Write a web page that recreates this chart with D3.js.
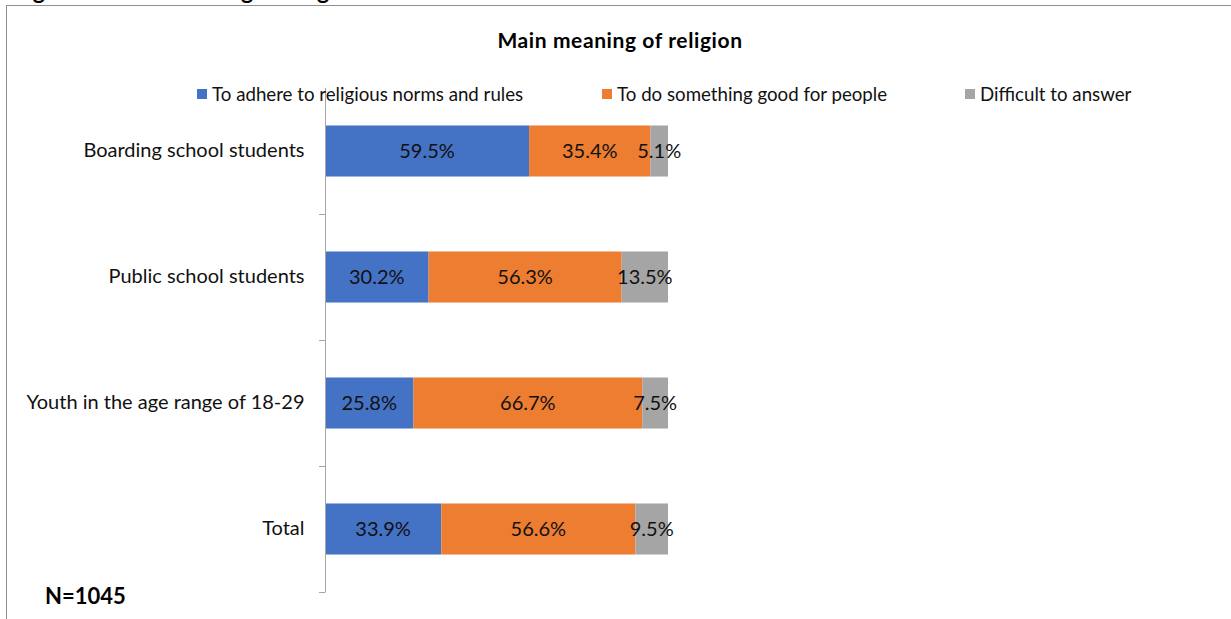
<!DOCTYPE html>
<html>
<head>
<meta charset="utf-8">
<script src="https://cdn.jsdelivr.net/npm/d3@7"></script>
<style>
  body { margin: 0; background: #fff; }
  text { font-family: Lato, "Open Sans", sans-serif; }
</style>
</head>
<body>
<div id="chart"></div>
<script>
// categories top to bottom
const categories = ["Boarding school students", "Public school students", "Youth in the age range of 18-29", "Total"];
const seriesNames = ["To adhere to religious norms and rules", "To do something good for people", "Difficult to answer"];
const adhere = [59.5, 30.2, 25.8, 33.9];
const doGood = [35.4, 56.3, 66.7, 56.6];
const difficult = [5.1, 13.5, 7.5, 9.5];
const colors = ["#4472C4", "#ED7D31", "#A5A5A5"];

const width = 1231, height = 619;

const svg = d3.select("#chart").append("svg")
    .attr("width", width)
    .attr("height", height);

// outer chart frame (runs off the right and bottom edges)
svg.append("rect")
    .attr("x", 6.5).attr("y", 5.5)
    .attr("width", 1400).attr("height", 1000)
    .attr("fill", "none")
    .attr("stroke", "#8f8f8f");

// caption above the frame, mostly cut off
svg.append("text")
    .attr("x", 14).attr("y", -1)
    .attr("font-size", "23px").attr("font-weight", "bold")
    .text("Figure 6. Main meaning of religion");

svg.append("text")
    .attr("x", 620).attr("y", 48)
    .attr("text-anchor", "middle")
    .attr("font-size", "21px").attr("font-weight", "bold")
    .attr("letter-spacing", "0.6px")
    .text("Main meaning of religion");

// stack data
const rows = categories.map((c, i) => ({ cat: c, s0: adhere[i], s1: doGood[i], s2: difficult[i] }));
const stack = d3.stack().keys(["s0", "s1", "s2"]);
const series = stack(rows);

const x = d3.scaleLinear().domain([0, 100]).range([325, 668]);
const y = d3.scaleBand().domain(categories).range([88, 592]).paddingInner(0.595).paddingOuter(0.2975);

const g = svg.append("g");

series.forEach((s, k) => {
    g.selectAll(null)
        .data(s)
        .enter()
        .append("rect")
            .attr("x", d => x(d[0]))
            .attr("y", d => y(d.data.cat))
            .attr("width", d => x(d[1]) - x(d[0]))
            .attr("height", y.bandwidth())
            .attr("fill", colors[k]);
});

// value labels
series.forEach((s, k) => {
    g.selectAll(null)
        .data(s)
        .enter()
        .append("text")
            .attr("x", d => (x(d[0]) + x(d[1])) / 2)
            .attr("y", d => y(d.data.cat) + y.bandwidth() / 2)
            .attr("dy", "0.35em")
            .attr("text-anchor", "middle")
            .attr("font-size", "20px")
            .attr("fill", "#111")
            .text(d => (d[1] - d[0]).toFixed(1) + "%");
});

// category axis
const yAxis = d3.axisLeft(y).tickSize(0).tickPadding(21);
const ax = svg.append("g")
    .attr("transform", "translate(325.5,0)")
    .call(yAxis);
ax.select(".domain").remove();
ax.selectAll("text").attr("font-size", "20px").attr("fill", "#111")
    .style("font-family", "Lato, sans-serif");

svg.append("line")
    .attr("x1", 325.5).attr("x2", 325.5)
    .attr("y1", 88).attr("y2", 592)
    .attr("stroke", "#a6a6a6");

// tick marks between categories
const bounds = d3.range(1, categories.length + 1).map(i => 88 + i * y.step());
svg.selectAll(null)
    .data(bounds)
    .enter()
    .append("line")
        .attr("x1", 319).attr("x2", 325.5)
        .attr("y1", d => Math.round(d) + 0.5)
        .attr("y2", d => Math.round(d) + 0.5)
        .attr("stroke", "#a6a6a6");

// legend
const legendX = [197, 602, 965];
const legend = svg.append("g");
seriesNames.forEach((name, i) => {
    legend.append("rect")
        .attr("x", legendX[i]).attr("y", 89)
        .attr("width", 10).attr("height", 10)
        .attr("fill", colors[i]);
    legend.append("text")
        .attr("x", legendX[i] + 15).attr("y", 94)
        .attr("dy", "0.35em")
        .attr("font-size", "18.7px")
        .attr("fill", "#111")
        .text(name);
});

svg.append("text")
    .attr("x", 45).attr("y", 604)
    .attr("font-size", "22px").attr("font-weight", "bold")
    .text("N=1045");
</script>
</body>
</html>
